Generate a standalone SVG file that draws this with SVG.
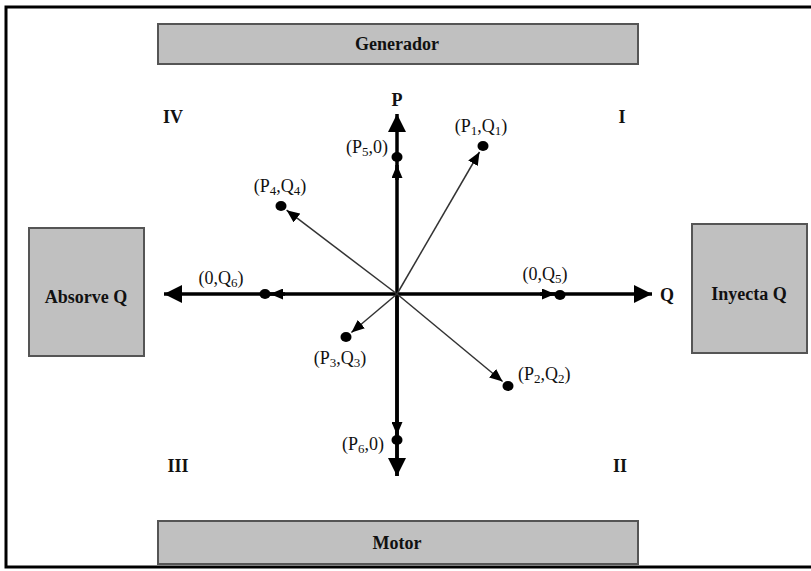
<svg xmlns="http://www.w3.org/2000/svg" width="811" height="571" viewBox="0 0 811 571">
<style>
.box{fill:#c0c0c0;stroke:#555;stroke-width:2}
.bt{font-family:"Liberation Serif","Times New Roman",serif;font-weight:bold;font-size:18px;fill:#111;text-anchor:middle}
.lb{font-family:"Liberation Serif","Times New Roman",serif;font-size:18px;fill:#111}
.sub{font-size:13px}
.axis{stroke:#000;stroke-width:3.5;fill:none}
.diag{stroke:#333;stroke-width:1.5;fill:none}
.dot{fill:#000}
</style>
<defs>
<marker id="big" markerUnits="userSpaceOnUse" markerWidth="18" markerHeight="18" refX="18" refY="9" orient="auto">
<path d="M0,0 L18,9 L0,18 z" fill="#000"/>
</marker>
<marker id="sm" markerUnits="userSpaceOnUse" markerWidth="13" markerHeight="11" refX="13" refY="5.5" orient="auto">
<path d="M0,0 L13,5.5 L0,11 z" fill="#000"/>
</marker>
</defs>
<rect x="6" y="7" width="830" height="560" fill="#fff" stroke="#000" stroke-width="3"/>

<g id="generador"><rect class="box" x="158" y="24" width="480" height="40"/><text class="bt" x="397" y="50">Generador</text></g>
<g id="motor"><rect class="box" x="158" y="521" width="480" height="43"/><text class="bt" x="397" y="549">Motor</text></g>
<g id="absorve"><rect class="box" x="29" y="228" width="115" height="128"/><text class="bt" x="86" y="303">Absorve Q</text></g>
<g id="inyecta"><rect class="box" x="692" y="224" width="115" height="129"/><text class="bt" x="749" y="300">Inyecta Q</text></g>

<g id="connectors">
<line class="axis" x1="397" y1="476" x2="397" y2="114" marker-end="url(#big)"/>
<line class="axis" x1="397" y1="294" x2="397" y2="476" marker-end="url(#big)"/>
<line class="axis" x1="397" y1="294" x2="652" y2="294" marker-end="url(#big)"/>
<line class="axis" x1="397" y1="294" x2="164" y2="294" marker-end="url(#big)"/>
<line class="diag" x1="397" y1="294" x2="479.5" y2="152" marker-end="url(#sm)"/>
<line class="diag" x1="397" y1="294" x2="286.6" y2="210.2" marker-end="url(#sm)"/>
<line class="diag" x1="397" y1="294" x2="351.4" y2="332.5" marker-end="url(#sm)"/>
<line class="diag" x1="397" y1="294" x2="502.6" y2="381.5" marker-end="url(#sm)"/>
<line class="axis" x1="397" y1="180" x2="397" y2="165" marker-end="url(#sm)"/>
<line class="axis" x1="397" y1="420" x2="397" y2="435" marker-end="url(#sm)"/>
<line class="axis" x1="540" y1="294" x2="555" y2="294" marker-end="url(#sm)"/>
<line class="axis" x1="285" y1="294" x2="270" y2="294" marker-end="url(#sm)"/>
</g>

<g id="p5"><ellipse class="dot" cx="397" cy="157" rx="5.5" ry="5"/><text class="lb" x="388" y="153" text-anchor="end">(P<tspan class="sub" dy="3">5</tspan><tspan dy="-3">,0)</tspan></text></g>
<g id="p1"><ellipse class="dot" cx="483" cy="146" rx="5.5" ry="5"/><text class="lb" x="481" y="132" text-anchor="middle">(P<tspan class="sub" dy="3">1</tspan><tspan dy="-3">,Q</tspan><tspan class="sub" dy="3">1</tspan><tspan dy="-3">)</tspan></text></g>
<g id="p4"><ellipse class="dot" cx="281" cy="206" rx="5.5" ry="5"/><text class="lb" x="280" y="192" text-anchor="middle">(P<tspan class="sub" dy="3">4</tspan><tspan dy="-3">,Q</tspan><tspan class="sub" dy="3">4</tspan><tspan dy="-3">)</tspan></text></g>
<g id="q6"><ellipse class="dot" cx="265" cy="294" rx="5.5" ry="5"/><text class="lb" x="221" y="284" text-anchor="middle">(0,Q<tspan class="sub" dy="3">6</tspan><tspan dy="-3">)</tspan></text></g>
<g id="q5"><ellipse class="dot" cx="560" cy="295" rx="5.5" ry="5"/><text class="lb" x="545" y="280" text-anchor="middle">(0,Q<tspan class="sub" dy="3">5</tspan><tspan dy="-3">)</tspan></text></g>
<g id="p3"><ellipse class="dot" cx="346" cy="337" rx="5.5" ry="5"/><text class="lb" x="340" y="364" text-anchor="middle">(P<tspan class="sub" dy="3">3</tspan><tspan dy="-3">,Q</tspan><tspan class="sub" dy="3">3</tspan><tspan dy="-3">)</tspan></text></g>
<g id="p2"><ellipse class="dot" cx="508" cy="386" rx="5.5" ry="5"/><text class="lb" x="518" y="380">(P<tspan class="sub" dy="3">2</tspan><tspan dy="-3">,Q</tspan><tspan class="sub" dy="3">2</tspan><tspan dy="-3">)</tspan></text></g>
<g id="p6"><ellipse class="dot" cx="397" cy="440" rx="5.5" ry="5"/><text class="lb" x="384" y="450" text-anchor="end">(P<tspan class="sub" dy="3">6</tspan><tspan dy="-3">,0)</tspan></text></g>

<g id="labels">
<text class="bt" x="397" y="106">P</text>
<text class="bt" x="667" y="301">Q</text>
<text class="bt" x="173" y="123">IV</text>
<text class="bt" x="622" y="123">I</text>
<text class="bt" x="178" y="472">III</text>
<text class="bt" x="620" y="472">II</text>
</g>
</svg>
